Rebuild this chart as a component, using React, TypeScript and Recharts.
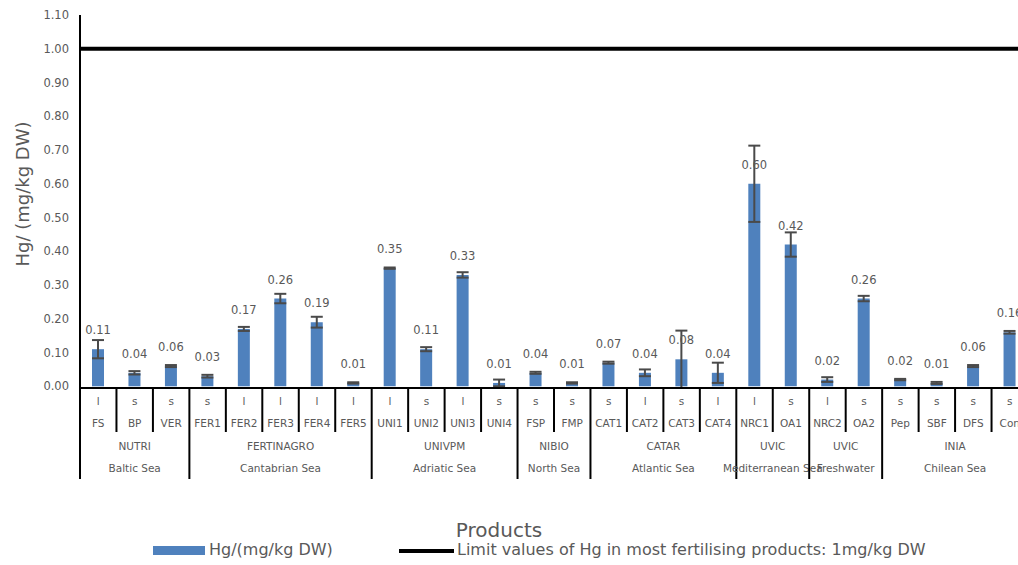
import React from 'react';
import {
  ComposedChart,
  Bar,
  XAxis,
  YAxis,
  ReferenceLine,
  ErrorBar,
  LabelList,
  Legend,
} from 'recharts';

// Product codes, physical state (l = liquid, s = solid), Hg content and its deviation
const codes = ['FS', 'BP', 'VER', 'FER1', 'FER2', 'FER3', 'FER4', 'FER5', 'UNI1', 'UNI2', 'UNI3', 'UNI4', 'FSP', 'FMP', 'CAT1', 'CAT2', 'CAT3', 'CAT4', 'NRC1', 'OA1', 'NRC2', 'OA2', 'Pep', 'SBF', 'DFS', 'Con'];
const states = ['l', 's', 's', 's', 'l', 'l', 'l', 'l', 'l', 's', 'l', 's', 's', 's', 's', 'l', 's', 'l', 'l', 's', 'l', 's', 's', 's', 's', 's'];
const hgValues = [0.11, 0.04, 0.06, 0.03, 0.17, 0.26, 0.19, 0.01, 0.35, 0.11, 0.33, 0.01, 0.04, 0.01, 0.07, 0.04, 0.08, 0.04, 0.60, 0.42, 0.02, 0.26, 0.02, 0.01, 0.06, 0.16];
const hgErrors = [0.027, 0.005, 0.003, 0.004, 0.006, 0.014, 0.016, 0.002, 0.002, 0.006, 0.008, 0.01, 0.003, 0.002, 0.003, 0.01, 0.085, 0.03, 0.113, 0.036, 0.007, 0.008, 0.002, 0.003, 0.003, 0.004];

// Grouping of products by partner and by origin
const partners = ['NUTRI', 'FERTINAGRO', 'UNIVPM', 'NIBIO', 'CATAR', 'UVIC', 'UVIC', 'INIA'];
const origins = ['Baltic Sea', 'Cantabrian Sea', 'Adriatic Sea', 'North Sea', 'Atlantic Sea', 'Mediterranean Sea', 'Freshwater', 'Chilean Sea'];
const groupSizes = [3, 5, 4, 2, 4, 2, 2, 4];

const yTicks = [0, 0.1, 0.2, 0.3, 0.4, 0.5, 0.6, 0.7, 0.8, 0.9, 1.0, 1.1];
const LIMIT = 1.0;

const BAR_COLOR = '#4F81BD';
const TEXT_COLOR = '#595959';
const FONT = "'DejaVu Sans', Lato, sans-serif";

const data = codes.map((code, i) => ({
  code,
  state: states[i],
  hg: hgValues[i],
  err: hgErrors[i],
}));

// index of first product in each group
const groupStarts: number[] = [];
groupSizes.reduce((acc, n) => {
  groupStarts.push(acc);
  return acc + n;
}, 0);

const CategoryTick = (props: any) => {
  const { y, payload } = props;
  const i: number = payload.index;
  const cx: number = payload.coordinate;
  const half: number = payload.offset || 18.23;
  const left = cx - half;
  const right = cx + half;
  const g = groupStarts.indexOf(i);
  const isStart = g >= 0;
  const isLast = i === codes.length - 1;
  const shortBottom = y + 44;
  const longBottom = y + 91;
  const txt = { fontFamily: FONT, fontSize: 10.5, fill: TEXT_COLOR, textAnchor: 'middle' as const };
  return (
    <g>
      <line x1={left} y1={y} x2={left} y2={isStart ? longBottom : shortBottom} stroke="#000" strokeWidth={2} />
      {isLast && <line x1={right} y1={y} x2={right} y2={longBottom} stroke="#000" strokeWidth={2} />}
      <text x={cx} y={y + 17} {...txt}>{states[i]}</text>
      <text x={cx} y={y + 39} {...txt}>{codes[i]}</text>
      {isStart && (
        <>
          <text x={left + groupSizes[g] * half} y={y + 62} {...txt}>{partners[g]}</text>
          <text x={left + groupSizes[g] * half} y={y + 84} {...txt}>{origins[g]}</text>
        </>
      )}
    </g>
  );
};

const renderLegend = () => (
  <div style={{ position: 'relative', width: 1018, height: 26, fontFamily: FONT, color: TEXT_COLOR, fontSize: 16, lineHeight: '26px', whiteSpace: 'nowrap' }}>
    <div style={{ position: 'absolute', left: 153, top: 9, width: 52, height: 9, background: BAR_COLOR }} />
    <span style={{ position: 'absolute', left: 209, top: 0 }}>Hg/(mg/kg DW)</span>
    <div style={{ position: 'absolute', left: 399, top: 12, width: 55, height: 4, background: '#000' }} />
    <span style={{ position: 'absolute', left: 457, top: 0 }}>Limit values of Hg in most fertilising products: 1mg/kg DW</span>
  </div>
);

export default function App() {
  return (
    <div style={{ position: 'absolute', left: 0, top: 0, width: 1018, height: 565, overflow: 'hidden', background: '#fff' }}>
      <ComposedChart
        width={1040}
        height={565}
        data={data}
        margin={{ top: 15, right: 12, bottom: 0, left: 0 }}
        barSize={12}
      >
        <XAxis
          dataKey="code"
          type="category"
          height={177}
          interval={0}
          tickLine={false}
          tickSize={0}
          tickMargin={0}
          axisLine={{ stroke: '#000', strokeWidth: 2 }}
          tick={<CategoryTick />}
          label={{
            content: () => (
              <text x={499} y={537} textAnchor="middle" fontFamily={FONT} fontSize={20} fill={TEXT_COLOR}>
                Products
              </text>
            ),
          }}
        />
        <YAxis
          width={80}
          domain={[0, 1.1]}
          ticks={yTicks}
          interval={0}
          tickFormatter={(v: number) => v.toFixed(2)}
          tickLine={false}
          tickSize={0}
          tickMargin={11}
          axisLine={{ stroke: '#000', strokeWidth: 2 }}
          tick={{ fill: TEXT_COLOR, fontSize: 11.5, fontFamily: FONT }}
          label={{
            content: () => (
              <text
                x={22}
                y={194}
                transform="rotate(-90, 22, 194)"
                textAnchor="middle"
                dominantBaseline="central"
                fontFamily={FONT}
                fontSize={18}
                fill={TEXT_COLOR}
              >
                Hg/ (mg/kg DW)
              </text>
            ),
          }}
        />
        <Legend
          layout="vertical"
          align="center"
          verticalAlign="middle"
          wrapperStyle={{ left: 0, top: 537, width: 1018, height: 26 }}
          content={renderLegend}
        />
        <Bar dataKey="hg" name="Hg/(mg/kg DW)" fill={BAR_COLOR} isAnimationActive={false}>
          <ErrorBar dataKey="err" direction="y" width={6} stroke="#4a4a4a" strokeWidth={2} />
          <LabelList
            dataKey="hg"
            position="top"
            offset={15}
            formatter={(v: any) => Number(v).toFixed(2)}
            style={{ fill: TEXT_COLOR, fontSize: 11.5, fontFamily: FONT }}
          />
        </Bar>
        <ReferenceLine y={LIMIT} stroke="#000" strokeWidth={4} ifOverflow="extendDomain" />
      </ComposedChart>
    </div>
  );
}
